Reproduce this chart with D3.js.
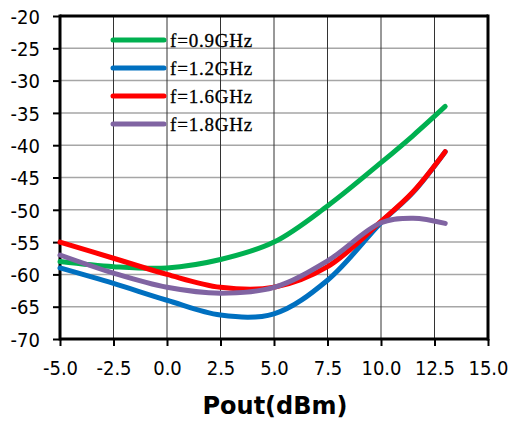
<!DOCTYPE html>
<html>
<head>
<meta charset="utf-8">
<script src="https://cdn.jsdelivr.net/npm/d3@7"></script>
<style>
  body { margin: 0; background: #fff; }
  svg { display: block; }
</style>
</head>
<body>
<svg id="chart" width="510" height="423"></svg>
<script>
// chart values
var xValues = [-5, -2.5, 0, 2.5, 5, 7.5, 10, 11.5, 13];
var green09 = [-58, -58.8, -59, -57.7, -55, -49.4, -42.7, -38.5, -34];
var blue12 = [-59, -61.4, -64, -66.3, -66.1, -60.9, -52, -47.3, -41];
var red16 = [-55, -57.5, -60, -62, -62, -58.8, -51.8, -47.2, -41];
var purple18 = [-57, -59.8, -62, -62.9, -62, -57.9, -52, -51.3, -52.1];
var seriesNames = ["f=0.9GHz", "f=1.2GHz", "f=1.6GHz", "f=1.8GHz"];
var seriesColors = ["#00b050", "#0070c0", "#ff0000", "#8064a2"];
var xTicks = [-5, -2.5, 0, 2.5, 5, 7.5, 10, 12.5, 15];
var yTicks = [-70, -65, -60, -55, -50, -45, -40, -35, -30, -25, -20];

(function() {
	var svg = d3.select("#chart");
	var pLeft = 60, pRight = 488, pTop = 16, pBottom = 339;

	var x = d3.scaleLinear().domain([-5, 15]).range([pLeft, pRight]);
	var y = d3.scaleLinear().domain([-70, -20]).range([pBottom, pTop]);

	// plain hyphen instead of d3's unicode minus
	var fmtX = d => d3.format(".1f")(d).replace("\u2212", "-");
	var fmtY = d => d3.format("d")(d).replace("\u2212", "-");

	// horizontal grid (grey)
	svg.append("g")
		.selectAll("line")
		.data(yTicks)
		.enter()
		.append("line")
		.attr("x1", pLeft).attr("x2", pRight)
		.attr("y1", d => y(d)).attr("y2", d => y(d))
		.attr("stroke", "#a6a6a6")
		.attr("stroke-width", 1.5);

	// vertical grid (dark)
	svg.append("g")
		.selectAll("line")
		.data(xTicks)
		.enter()
		.append("line")
		.attr("x1", d => x(d)).attr("x2", d => x(d))
		.attr("y1", pTop).attr("y2", pBottom)
		.attr("stroke", "#333")
		.attr("stroke-width", 1);

	// axes
	var yAxis = d3.axisLeft(y).tickValues(yTicks).tickSize(7).tickPadding(13)
		.tickFormat(fmtY);
	var xAxis = d3.axisBottom(x).tickValues(xTicks).tickSize(7).tickPadding(15)
		.tickFormat(fmtX);

	var gy = svg.append("g").attr("transform", "translate(" + pLeft + ",0)").call(yAxis);
	var gx = svg.append("g").attr("transform", "translate(0," + pBottom + ")").call(xAxis);

	[gx, gy].forEach(function(g) {
		g.select(".domain").remove();
		g.selectAll(".tick line").attr("stroke", "#000").attr("stroke-width", 2);
		g.selectAll(".tick text")
			.attr("fill", "#000")
			.style("font-family", "DejaVu Sans Condensed, DejaVu Sans, sans-serif")
			.style("font-size", "20px");
	});
	gy.selectAll(".tick text").attr("dy", "0.36em");

	// frame
	svg.append("line").attr("x1", pLeft).attr("x2", pRight).attr("y1", pTop).attr("y2", pTop)
		.attr("stroke", "#000").attr("stroke-width", 3);
	svg.append("line").attr("x1", pRight).attr("x2", pRight).attr("y1", pTop - 1.5).attr("y2", pBottom + 1.5)
		.attr("stroke", "#000").attr("stroke-width", 3);
	svg.append("line").attr("x1", pLeft).attr("x2", pRight).attr("y1", pBottom).attr("y2", pBottom)
		.attr("stroke", "#000").attr("stroke-width", 3);
	svg.append("line").attr("x1", pLeft).attr("x2", pLeft).attr("y1", pTop - 1.5).attr("y2", pBottom + 1.5)
		.attr("stroke", "#000").attr("stroke-width", 3);

	// curves
	var allSeries = [green09, blue12, red16, purple18];
	var line = d3.line()
		.x((d, i) => x(xValues[i]))
		.y(d => y(d))
		.curve(d3.curveCatmullRom.alpha(0.5));

	svg.append("g")
		.selectAll("path")
		.data(allSeries)
		.enter()
		.append("path")
		.attr("d", line)
		.attr("fill", "none")
		.attr("stroke", (d, i) => seriesColors[i])
		.attr("stroke-width", 5)
		.attr("stroke-linecap", "round")
		.attr("stroke-linejoin", "round");

	// legend
	var legend = svg.append("g")
		.selectAll("g")
		.data(seriesNames)
		.enter()
		.append("g")
		.attr("transform", (d, i) => "translate(0," + (40 + i * 28) + ")");

	legend.append("line")
		.attr("x1", 113).attr("x2", 164)
		.attr("stroke", (d, i) => seriesColors[i])
		.attr("stroke-width", 5)
		.attr("stroke-linecap", "round");

	legend.append("text")
		.attr("x", 170)
		.attr("dy", "0.35em")
		.text(d => d)
		.style("font-family", "Liberation Serif, serif")
		.style("font-size", "19px")
		.style("letter-spacing", "0.8px")
		.style("stroke", "#000")
		.style("stroke-width", 0.3)
		.attr("fill", "#000");

	// axis title
	svg.append("text")
		.attr("x", (pLeft + pRight) / 2 + 1)
		.attr("y", 414)
		.attr("text-anchor", "middle")
		.style("font-family", "DejaVu Sans, Verdana, sans-serif")
		.style("font-size", "24px")
		.style("font-weight", "bold")
		.text("Pout(dBm)");
})();
</script>
</body>
</html>
